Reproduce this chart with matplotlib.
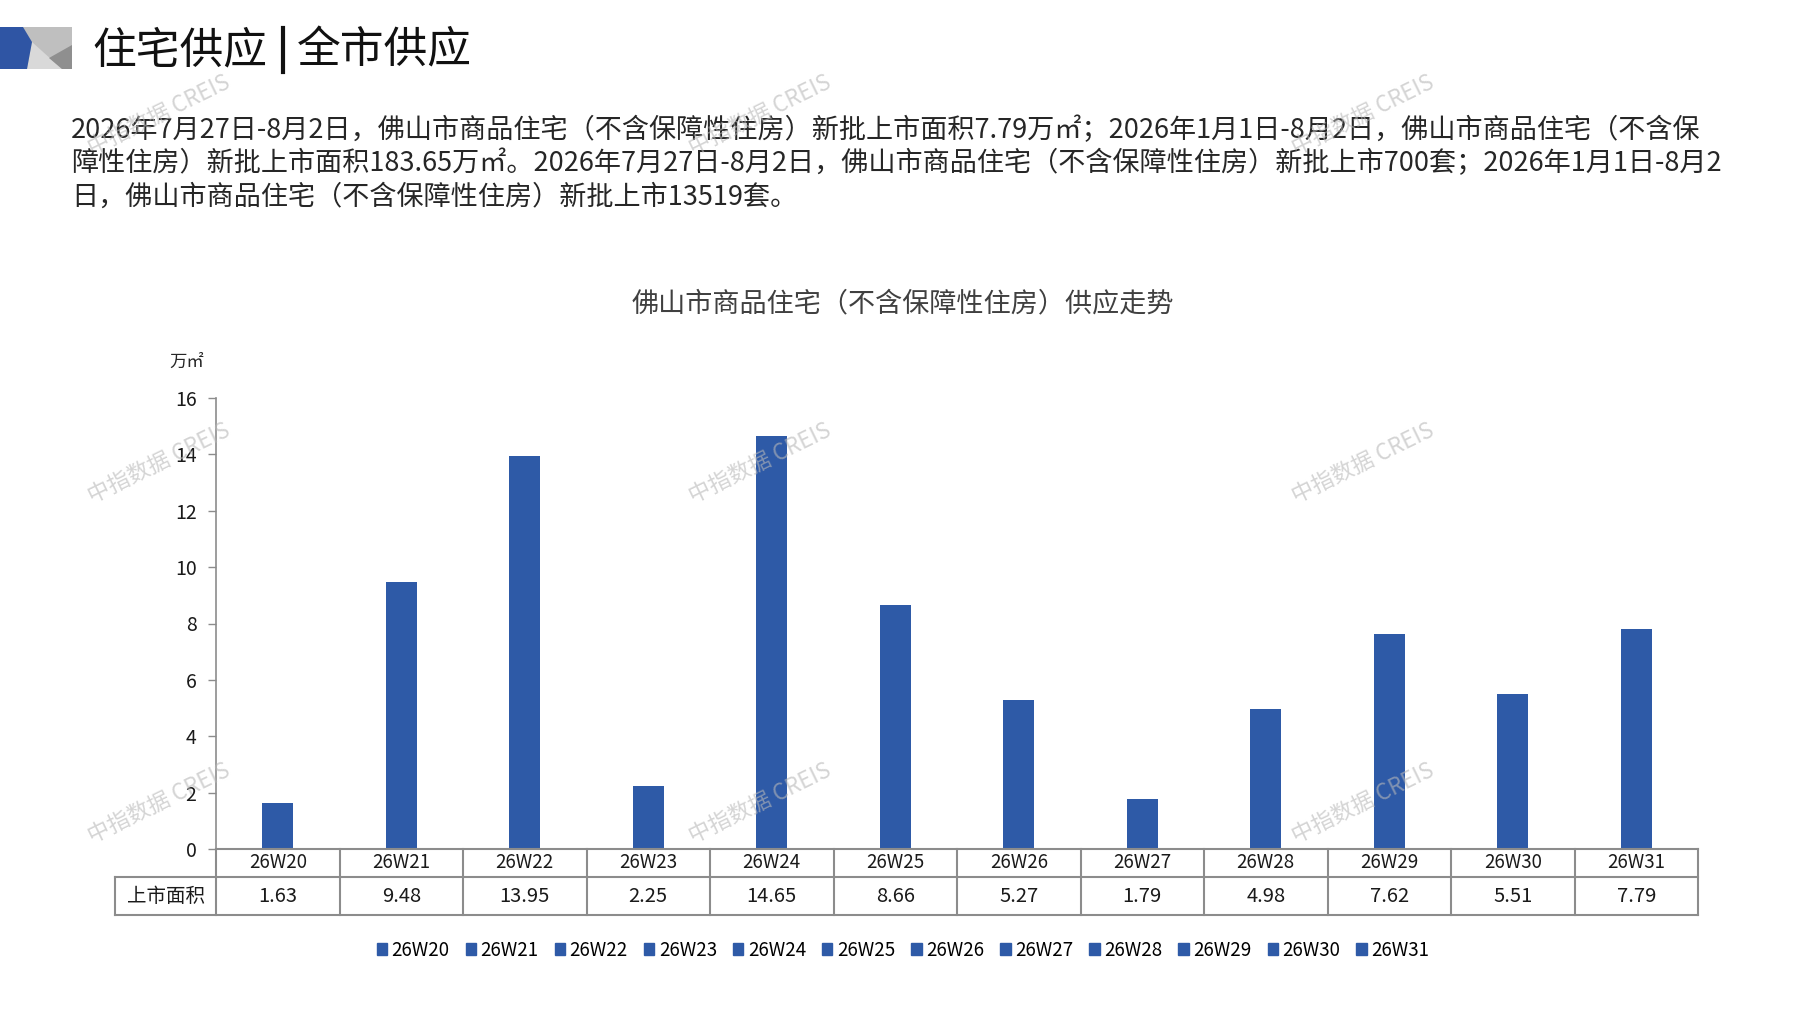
import numpy as np
import matplotlib
matplotlib.use('Agg')
import matplotlib.pyplot as plt
from matplotlib.patches import Polygon, Patch
from matplotlib.lines import Line2D
from matplotlib.transforms import blended_transform_factory

plt.rcParams['font.family'] = ['Noto Sans CJK SC', 'DejaVu Sans']

# -- data
weeks = ['26W20', '26W21', '26W22', '26W23', '26W24', '26W25',
         '26W26', '26W27', '26W28', '26W29', '26W30', '26W31']
area = [1.63, 9.48, 13.95, 2.25, 14.65, 8.66, 5.27, 1.79, 4.98, 7.62, 5.51, 7.79]
yticks = [0, 2, 4, 6, 8, 10, 12, 14, 16]

page_title = ['住宅供应', '全市供应']
chart_title = '佛山市商品住宅（不含保障性住房）供应走势'
row_label = '上市面积'
unit_label = '万㎡'
para_lines = [
    '2026年7月27日-8月2日，佛山市商品住宅（不含保障性住房）新批上市面积7.79万㎡；2026年1月1日-8月2日，佛山市商品住宅（不含保',
    '障性住房）新批上市面积183.65万㎡。2026年7月27日-8月2日，佛山市商品住宅（不含保障性住房）新批上市700套；2026年1月1日-8月2',
    '日，佛山市商品住宅（不含保障性住房）新批上市13519套。',
]
watermark = '中指数据 CREIS'

W, H = 1797, 1010
BLUE = '#2E5AA7'
GRID = '#8c8c8c'

fig = plt.figure(figsize=(W / 100, H / 100), dpi=100)


def px(x, y):
    # pixel position (from top-left) -> figure fraction
    return x / W, 1 - y / H


# -- header graphic
shapes = [
    ([(0, 27), (72, 27), (72, 69), (0, 69)], '#bfbfbf'),
    ([(32, 42), (27, 69), (62, 69)], '#d9d9d9'),
    ([(72, 45), (49, 58), (62, 69), (72, 69)], '#8f8f8f'),
    ([(0, 27), (23, 27), (32, 42), (27, 69), (0, 69)], '#2F55A4'),
]
for pts, col in shapes:
    fig.add_artist(Polygon([px(*p) for p in pts], closed=True, color=col,
                           transform=fig.transFigure, lw=0))

fig.text(*px(92, 50), page_title[0], fontsize=31.5, va='center', ha='left', color='#111111')
fig.add_artist(Line2D([283 / W, 283 / W], [1 - 28 / H, 1 - 72 / H], color='#111111', lw=3,
                      transform=fig.transFigure))
fig.text(*px(297, 50), page_title[1], fontsize=31.5, va='center', ha='left', color='#111111')

# -- paragraph
for i, line in enumerate(para_lines):
    fig.text(*px(71, 130 + i * 33.5), line, fontsize=19.5, va='center', ha='left', color='#262626')

# -- chart title and unit
fig.text(*px(903, 304), chart_title, fontsize=19.5, va='center', ha='center', color='#404040')
fig.text(*px(187, 362), unit_label, fontsize=12.5, va='center', ha='center', color='#262626')

# -- axes
ax = fig.add_axes([216 / W, 1 - 849 / H, (1698 - 216) / W, (849 - 398) / H])
x = np.arange(len(weeks))
ax.bar(x, area, width=0.25, color=BLUE, zorder=2)
ax.set_xlim(-0.5, len(weeks) - 0.5)
ax.set_ylim(0, 16)
ax.set_yticks(yticks)
ax.tick_params(axis='y', labelsize=14, length=6, width=1, color=GRID, pad=8, labelcolor='#1a1a1a')
ax.set_xticks([])
for s in ['top', 'right', 'bottom']:
    ax.spines[s].set_visible(False)
ax.spines['left'].set_color(GRID)
ax.spines['left'].set_linewidth(1.2)

# -- data table under the axis
tr = blended_transform_factory(ax.transData, ax.transAxes)
ah = 849 - 398
y_top, y_mid, y_bot = 0, -(877 - 849) / ah, -(915 - 849) / ah
x_left = -0.5 - (216 - 115) / 123.5
x_right = len(weeks) - 0.5
kw = dict(color=GRID, lw=1.5, transform=tr, clip_on=False)
ax.plot([-0.5, x_right], [y_top, y_top], **kw)
ax.plot([x_left, x_right], [y_mid, y_mid], **kw)
ax.plot([x_left, x_right], [y_bot, y_bot], **kw)
ax.plot([x_left, x_left], [y_mid, y_bot], **kw)
for b in np.arange(len(weeks) + 1) - 0.5:
    ax.plot([b, b], [y_top, y_bot], **kw)
for i, (w, v) in enumerate(zip(weeks, area)):
    ax.text(i, (y_top + y_mid) / 2, w, transform=tr, ha='center', va='center',
            fontsize=13.5, color='#1a1a1a')
    ax.text(i, (y_mid + y_bot) / 2, f'{v:.2f}', transform=tr, ha='center', va='center',
            fontsize=14.5, color='#1a1a1a')
ax.text((x_left - 0.5) / 2, (y_mid + y_bot) / 2, row_label, transform=tr, ha='center',
        va='center', fontsize=14, color='#1a1a1a')

# -- legend
handles = [Patch(color=BLUE, label=w) for w in weeks]
fig.legend(handles=handles, loc='center', bbox_to_anchor=px(903, 950), ncol=len(weeks),
           frameon=False, fontsize=13.5, handlelength=0.55, handleheight=0.55,
           handletextpad=0.25, columnspacing=0.85, borderpad=0)

# -- watermarks
for cx in (159, 760, 1363):
    for cy in (115, 463, 803):
        fig.text(*px(cx, cy), watermark, fontsize=16, rotation=26, ha='center', va='center',
                 color='#b8b8b8', alpha=0.6, zorder=10)

fig.savefig('out.png', dpi=100)
